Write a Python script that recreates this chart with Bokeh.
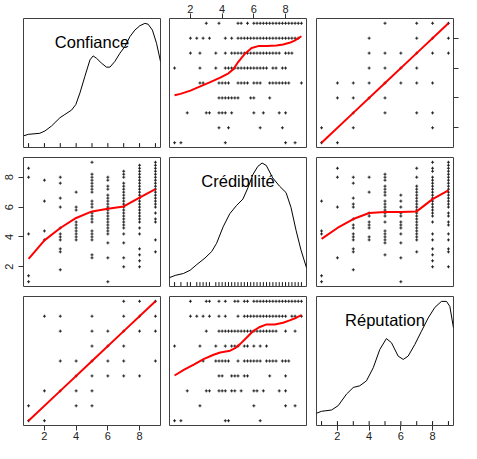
from bokeh.plotting import figure
from bokeh.layouts import gridplot
from bokeh.models import Range1d, LinearAxis, FixedTicker
from bokeh.embed import file_html
from bokeh.resources import INLINE
from bokeh.core.properties import value

# ---------------- data ----------------
names = ["Confiance", "Crédibilité", "Réputation"]
tick_values = [2, 4, 6, 8]
levels = [1, 2, 3, 4, 5, 6, 7, 8, 9]

# distinct Crédibilité values observed at each Confiance level
cred_by_conf = {
    1: [1.0, 1.4, 4.2, 8.0, 8.6],
    2: [3.8, 4.4, 6.4, 7.8],
    3: [1.8, 3.0, 3.2, 3.8, 4.0, 4.2, 4.6, 6.0, 6.6, 7.6, 8.0],
    4: [3.8, 4.0, 4.2, 4.4, 4.6, 4.8, 5.0, 5.8, 6.0, 7.0],
    5: [2.6, 2.8, 3.8, 4.0, 4.2, 4.4, 5.0, 5.2, 5.4, 5.6, 6.0, 6.2, 6.4,
        7.0, 7.2, 7.4, 7.6, 7.8, 8.0, 8.2, 9.0],
    6: [1.0, 2.6, 3.6, 4.2, 4.4, 4.6, 4.8, 5.0, 5.2, 5.4, 5.6, 5.8, 6.0,
        6.2, 6.4, 6.6, 6.8, 7.2, 7.4, 7.8, 8.0],
    7: [2.0, 2.6, 3.6, 4.2, 4.6, 4.8, 5.0, 5.2, 5.4, 5.6, 5.8, 6.0, 6.2,
        6.4, 6.6, 6.8, 7.0, 7.2, 7.4, 7.6, 8.0, 8.2, 8.4],
    8: [2.0, 2.4, 2.8, 3.2, 4.2, 4.6, 5.0, 5.2, 5.4, 5.6, 5.8, 6.0, 6.2,
        6.4, 6.6, 6.8, 7.0, 7.2, 7.4, 7.6, 7.8, 8.0, 8.2, 8.4, 8.6, 8.8],
    9: [3.0, 3.8, 5.0, 5.2, 5.6, 6.0, 6.2, 6.4, 6.6, 6.8, 7.0, 7.2, 7.4,
        7.6, 7.8, 8.0, 8.2, 8.4, 8.6, 8.8, 9.0],
}

# distinct Crédibilité values observed at each Réputation level
cred_by_rep = {
    1: [1.0, 1.4, 4.2, 4.4, 6.4],
    2: [2.6, 6.0, 8.0, 8.6],
    3: [1.8, 3.0, 3.2, 3.8, 4.0, 4.2, 4.6, 4.8, 5.2, 6.0, 6.2, 6.6, 7.6, 8.0],
    4: [3.8, 4.0, 4.6, 4.8, 5.0, 5.4, 5.6, 7.0, 8.0],
    5: [2.8, 3.6, 3.8, 4.0, 4.2, 4.4, 5.0, 5.4, 5.6, 5.8, 6.0, 6.2, 6.4,
        6.8, 7.0, 7.2, 7.4, 7.8, 8.0, 8.2],
    6: [1.0, 2.6, 3.6, 4.2, 4.6, 4.8, 5.0, 5.4, 5.6, 6.0, 6.4, 6.8],
    7: [3.0, 3.8, 4.0, 4.2, 4.4, 4.6, 4.8, 5.0, 5.2, 5.4, 5.6, 5.8, 6.0,
        6.2, 6.4, 6.6, 6.8, 7.0, 7.2, 7.4, 8.0, 8.6],
    8: [2.0, 2.4, 2.8, 3.2, 3.8, 4.2, 5.0, 5.4, 5.6, 5.8, 6.0, 6.2, 6.4,
        6.6, 6.8, 7.0, 7.2, 7.4, 7.6, 7.8, 8.0, 8.4, 8.6, 9.0],
    9: [2.0, 3.0, 3.2, 3.8, 4.2, 4.8, 5.0, 5.4, 5.6, 6.0, 6.2, 6.4, 6.6,
        6.8, 7.0, 7.2, 7.4, 7.6, 7.8, 8.0, 8.2, 8.4, 8.6, 8.8, 9.0],
}

# distinct Réputation values observed at each Confiance level
rep_by_conf = {
    1: [1, 2],
    2: [1, 3, 8],
    3: [3, 5, 7, 8],
    4: [2, 3, 4, 5],
    5: [2, 3, 4, 5, 6, 7, 8],
    6: [4, 5, 6, 7],
    7: [4, 5, 6, 7, 8, 9],
    8: [4, 7, 8, 9],
    9: [5, 7, 8, 9],
}

# density curves (relative height in panel)
conf_dens_x = [0.68, 0.98, 1.71, 2.03, 2.45, 2.98, 3.29, 3.71, 3.98, 4.24, 4.55,
               4.87, 5.07, 5.28, 5.60, 5.91, 6.13, 6.44, 6.76, 7.07, 7.39, 7.70,
               8.02, 8.33, 8.54, 8.81, 9.07, 9.32]
conf_dens_y = [0.090, 0.102, 0.110, 0.128, 0.167, 0.231, 0.256, 0.290, 0.333,
               0.423, 0.551, 0.679, 0.710, 0.692, 0.654, 0.623, 0.623, 0.667,
               0.731, 0.782, 0.859, 0.910, 0.944, 0.962, 0.956, 0.910, 0.808,
               0.667]
cred_dens_x = [0.68, 1.04, 1.56, 1.98, 2.40, 2.92, 3.34, 3.65, 4.06, 4.48, 4.90,
               5.31, 5.63, 5.94, 6.25, 6.52, 6.78, 7.19, 7.61, 8.03, 8.34, 8.66,
               8.97, 9.32]
cred_dens_y = [0.069, 0.086, 0.101, 0.126, 0.170, 0.221, 0.271, 0.335, 0.462,
               0.564, 0.627, 0.678, 0.766, 0.868, 0.931, 0.957, 0.939, 0.842,
               0.779, 0.728, 0.614, 0.436, 0.284, 0.145]
rep_dens_x = [0.68, 0.99, 1.63, 2.05, 2.57, 3.00, 3.41, 3.83, 4.26, 4.67, 5.09,
              5.41, 5.83, 6.15, 6.46, 6.88, 7.30, 7.72, 8.14, 8.56, 8.88, 9.09,
              9.32]
rep_dens_y = [0.095, 0.110, 0.120, 0.154, 0.243, 0.295, 0.308, 0.346, 0.448,
              0.589, 0.674, 0.641, 0.538, 0.512, 0.538, 0.628, 0.731, 0.833,
              0.915, 0.962, 0.962, 0.923, 0.756]

# smoother lines
red_conf_on_cred_x = [1.0, 1.37, 2.0, 2.62, 3.25, 3.88, 4.4, 4.71, 5.02, 5.44,
                      5.86, 6.28, 6.8, 7.43, 7.84, 8.25, 8.57, 9.0]
red_conf_on_cred_y = [4.18, 4.27, 4.49, 4.77, 5.06, 5.36, 5.65, 5.93, 6.42, 6.96,
                      7.34, 7.47, 7.47, 7.51, 7.58, 7.69, 7.84, 8.13]
red_rep_on_cred_x = [1.0, 1.58, 2.21, 2.83, 3.46, 3.88, 4.5, 4.82, 5.13, 5.55,
                     5.96, 6.38, 6.8, 7.32, 7.84, 8.26, 8.68, 9.0]
red_rep_on_cred_y = [4.03, 4.40, 4.76, 5.13, 5.42, 5.57, 5.69, 5.86, 6.13, 6.57,
                     7.01, 7.28, 7.45, 7.45, 7.56, 7.72, 7.90, 8.07]
red_cred_on_conf_y = [2.53, 3.77, 4.60, 5.27, 5.71, 5.89, 6.04, 6.64, 7.20]
red_cred_on_rep_y = [3.87, 4.60, 5.20, 5.60, 5.67, 5.67, 5.71, 6.53, 7.11]
red_diag_x = [1, 3, 5, 7, 9]
red_diag_y = [1, 3, 5, 7, 9]

# ---------------- derived pairs ----------------
cc_conf = [k for k, vs in cred_by_conf.items() for v in vs]
cc_cred = [v for k, vs in cred_by_conf.items() for v in vs]
rc_rep = [k for k, vs in cred_by_rep.items() for v in vs]
rc_cred = [v for k, vs in cred_by_rep.items() for v in vs]
cr_conf = [k for k, vs in rep_by_conf.items() for v in vs]
cr_rep = [v for k, vs in rep_by_conf.items() for v in vs]
conf_rug = sorted(set(cc_conf) | set(cr_conf))
rep_rug = sorted(set(rc_rep) | set(cr_rep))
cred_rug = sorted(set(cc_cred) | set(rc_cred))

# ---------------- styling ----------------
FONT = "Liberation Sans"
LO, HI = 0.68, 9.32
FRAME_W, FRAME_H = 137, 129
col_borders = [(23, 5), (4, 5), (5, 7)]
row_borders = [(18, 5), (5, 5), (5, 18)]


def make_fig(r, c, density=False):
    L, R = col_borders[c]
    T, B = row_borders[r]
    yr = Range1d(0, 1) if density else Range1d(LO, HI)
    p = figure(width=L + FRAME_W + R, height=T + FRAME_H + B,
               x_range=Range1d(LO, HI), y_range=yr,
               output_backend="svg", toolbar_location=None,
               x_axis_location=None, y_axis_location=None,
               min_border_left=L, min_border_right=R,
               min_border_top=T, min_border_bottom=B)
    p.background_fill_color = "white"
    p.border_fill_color = "white"
    p.outline_line_color = "#404040"
    p.outline_line_width = 1
    p.xgrid.visible = False
    p.ygrid.visible = False
    return p


def add_axis(p, side):
    ax = LinearAxis(ticker=FixedTicker(ticks=tick_values, minor_ticks=[]))
    ax.axis_line_color = None
    ax.major_tick_out = 5
    ax.major_tick_in = 0
    ax.minor_tick_out = 0
    ax.minor_tick_in = 0
    ax.major_tick_line_color = "#333333"
    ax.major_label_text_font = FONT
    ax.major_label_text_font_size = "11px"
    ax.major_label_text_color = "#222222"
    ax.major_label_standoff = 1
    if side == "left":
        ax.major_label_orientation = "vertical"
        ax.major_label_standoff = 5
    if side == "right":
        ax.major_label_overrides = {t: "" for t in tick_values}
        ax.major_label_text_font_size = "1px"
        ax.major_label_standoff = 0
    p.add_layout(ax, side)


def scatter_panel(r, c, xs, ys, rx, ry):
    p = make_fig(r, c)
    p.scatter(xs, ys, marker="cross", size=3, line_color="#222222", line_width=1)
    p.line(rx, ry, line_color="#FF0000", line_width=2)
    return p


def density_panel(r, c, name, dx, dy, rug):
    p = make_fig(r, c, density=True)
    p.text(x=[5.0], y=[0.82], text=[name], text_font=value(FONT),
           text_font_size="16.5px", text_align="center", text_baseline="middle",
           text_color="black")
    p.line(dx, dy, line_color="black", line_width=1)
    p.multi_line(xs=[[float(v), float(v)] for v in rug],
                 ys=[[0.004, 0.034] for v in rug],
                 line_color="#111111", line_width=1)
    return p


p11 = density_panel(0, 0, names[0], conf_dens_x, conf_dens_y, conf_rug)
p12 = scatter_panel(0, 1, cc_cred, cc_conf, red_conf_on_cred_x, red_conf_on_cred_y)
p13 = scatter_panel(0, 2, cr_rep, cr_conf, red_diag_x, red_diag_y)
p21 = scatter_panel(1, 0, cc_conf, cc_cred, levels, red_cred_on_conf_y)
p22 = density_panel(1, 1, names[1], cred_dens_x, cred_dens_y, cred_rug)
p23 = scatter_panel(1, 2, rc_rep, rc_cred, levels, red_cred_on_rep_y)
p31 = scatter_panel(2, 0, cr_conf, cr_rep, red_diag_x, red_diag_y)
p32 = scatter_panel(2, 1, rc_cred, rc_rep, red_rep_on_cred_x, red_rep_on_cred_y)
p33 = density_panel(2, 2, names[2], rep_dens_x, rep_dens_y, rep_rug)

add_axis(p12, "above")
add_axis(p21, "left")
add_axis(p31, "below")
add_axis(p33, "below")
add_axis(p13, "right")
add_axis(p33, "right")

grid = gridplot([[p11, p12, p13], [p21, p22, p23], [p31, p32, p33]],
                toolbar_location=None)

open("out.html", "w").write(file_html(grid, INLINE))
